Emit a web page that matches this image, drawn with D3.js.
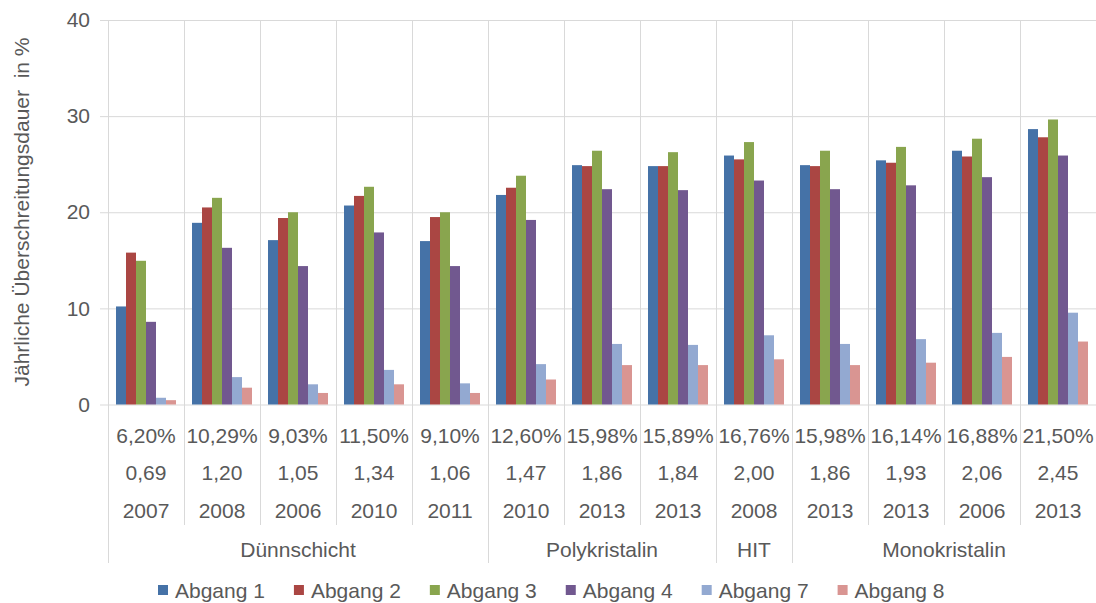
<!DOCTYPE html>
<html>
<head>
<meta charset="utf-8">
<script src="https://cdn.jsdelivr.net/npm/d3@7"></script>
<style>
  html, body { margin: 0; padding: 0; background: #fff; }
  svg { display: block; }
  text { font-family: "Liberation Sans", Arial, sans-serif; fill: #595959; }
</style>
</head>
<body>
<svg id="chart" width="1096" height="603"></svg>
<script>
// ---- data ----
const categories = ["c1","c2","c3","c4","c5","c6","c7","c8","c9","c10","c11","c12","c13"];
const pctLabels = ["6,20%","10,29%","9,03%","11,50%","9,10%","12,60%","15,98%","15,89%","16,76%","15,98%","16,14%","16,88%","21,50%"];
const valLabels = ["0,69","1,20","1,05","1,34","1,06","1,47","1,86","1,84","2,00","1,86","1,93","2,06","2,45"];
const yearLabels = ["2007","2008","2006","2010","2011","2010","2013","2013","2008","2013","2013","2006","2013"];
const groupNames = ["Dünnschicht","Polykristalin","HIT","Monokristalin"];
const groupSizes = [5, 3, 1, 4];
const seriesNames = ["Abgang 1","Abgang 2","Abgang 3","Abgang 4","Abgang 7","Abgang 8"];
const seriesColors = ["#4572A7","#AA4643","#89A54E","#71588F","#93A9D1","#D99592"];
const abgang1 = [10.2, 18.9, 17.1, 20.7, 17.0, 21.8, 24.9, 24.8, 25.9, 24.9, 25.4, 26.4, 28.65];
const abgang2 = [15.8, 20.5, 19.4, 21.7, 19.5, 22.55, 24.8, 24.8, 25.5, 24.8, 25.15, 25.8, 27.8];
const abgang3 = [14.95, 21.5, 20.0, 22.65, 20.0, 23.8, 26.4, 26.25, 27.3, 26.4, 26.8, 27.65, 29.65];
const abgang4 = [8.6, 16.3, 14.4, 17.9, 14.4, 19.2, 22.4, 22.3, 23.3, 22.4, 22.8, 23.65, 25.9];
const abgang7 = [0.7, 2.85, 2.1, 3.6, 2.2, 4.2, 6.3, 6.2, 7.2, 6.3, 6.8, 7.45, 9.55];
const abgang8 = [0.45, 1.75, 1.2, 2.1, 1.2, 2.6, 4.1, 4.1, 4.7, 4.1, 4.35, 4.95, 6.55];
const yTicks = [0, 10, 20, 30, 40];
const yTitle = "Jährliche Überschreitungsdauer  in %";

const seriesData = [abgang1, abgang2, abgang3, abgang4, abgang7, abgang8];

// ---- layout ----
const svg = d3.select("#chart");
const plotLeft = 108, plotRight = 1096, plotTop = 20, plotBottom = 404.5;
const gridColor = "#d9d9d9";
const fontSize = 21;

const x = d3.scaleBand().domain(categories).range([plotLeft, plotRight]).paddingInner(0).paddingOuter(0);
const xs = d3.scaleBand().domain(seriesNames).range([8, x.bandwidth() - 8]).padding(0);
const y = d3.scaleLinear().domain([0, 40]).range([plotBottom, plotTop]);

// horizontal gridlines + y tick labels via axis
const yAxis = d3.axisLeft(y).tickValues(yTicks).tickSize(-(plotRight - plotLeft + 8)).tickPadding(10).tickFormat(d3.format("d"));
const gy = svg.append("g").attr("transform", `translate(${plotLeft - 8},0)`).call(yAxis);
gy.select(".domain").remove();
gy.selectAll(".tick line").attr("stroke", gridColor).attr("stroke-width", 1).attr("transform", "translate(0,0)");
gy.selectAll(".tick text").style("font-size", fontSize + "px").attr("fill", "#595959").attr("x", -10);

// vertical category lines in plot + label rows
const boundaries = categories.map(c => x(c)).concat([plotRight]);
const groupEnds = [];
{ let s = 0; groupEnds.push(0); groupSizes.forEach(n => { s += n; groupEnds.push(s); }); }
svg.append("g").selectAll("line").data(boundaries).join("line")
  .attr("x1", d => Math.round(d) + 0.5).attr("x2", d => Math.round(d) + 0.5)
  .attr("y1", plotTop).attr("y2", (d, i) => groupEnds.includes(i) ? 563 : 525)
  .attr("stroke", gridColor).attr("stroke-width", 1);

// bars
const barG = svg.append("g");
seriesData.forEach((vals, si) => {
  barG.append("g").selectAll("rect").data(vals).join("rect")
    .attr("x", (d, i) => x(categories[i]) + xs(seriesNames[si]))
    .attr("width", xs.bandwidth())
    .attr("y", d => y(d))
    .attr("height", d => y(0) - y(d))
    .attr("fill", seriesColors[si]);
});

// label rows
const rows = [[pctLabels, 443], [valLabels, 480], [yearLabels, 518]];
rows.forEach(([labels, yy]) => {
  svg.append("g").selectAll("text").data(labels).join("text")
    .attr("x", (d, i) => x(categories[i]) + x.bandwidth() / 2)
    .attr("y", yy)
    .attr("text-anchor", "middle")
    .style("font-size", fontSize + "px")
    .text(d => d);
});

// group labels
svg.append("g").selectAll("text").data(groupNames).join("text")
  .attr("x", (d, i) => (boundaries[groupEnds[i]] + boundaries[groupEnds[i + 1]]) / 2)
  .attr("y", 557)
  .attr("text-anchor", "middle")
  .style("font-size", fontSize + "px")
  .text(d => d);

// y-axis title
svg.append("text")
  .attr("transform", "translate(29,212) rotate(-90)")
  .attr("text-anchor", "middle")
  .style("font-size", fontSize + "px")
  .style("white-space", "pre")
  .text(yTitle);

// legend
const leg = svg.append("g");
let lx = 158;
seriesNames.forEach((name, i) => {
  const g = leg.append("g").attr("transform", `translate(${lx},0)`);
  g.append("rect").attr("x", 0).attr("y", 585).attr("width", 10).attr("height", 10).attr("fill", seriesColors[i]);
  const t = g.append("text").attr("x", 17).attr("y", 598).style("font-size", fontSize + "px").text(name);
  const w = t.node().getComputedTextLength();
  lx += 17 + w + 29;
});
</script>
</body>
</html>
